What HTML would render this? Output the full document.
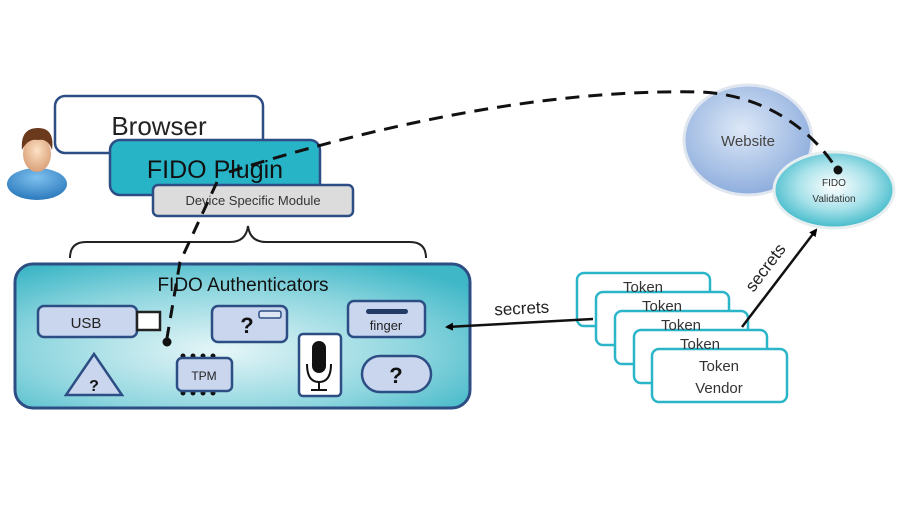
<!DOCTYPE html>
<html><head><meta charset="utf-8"><style>
html,body{margin:0;padding:0;background:#fff;width:900px;height:506px;overflow:hidden}
svg{display:block}
text{font-family:"Liberation Sans","DejaVu Sans",sans-serif}
</style></head><body>
<svg width="900" height="506" viewBox="0 0 900 506" xmlns="http://www.w3.org/2000/svg">
<defs>
<radialGradient id="auth" cx="0.45" cy="0.6" r="0.7">
<stop offset="0" stop-color="#e6f6f8"/><stop offset="0.6" stop-color="#8fd6df"/><stop offset="1" stop-color="#3fb7c7"/></radialGradient>
<radialGradient id="web" cx="0.45" cy="0.4" r="0.65">
<stop offset="0" stop-color="#dde8f7"/><stop offset="1" stop-color="#88a9db"/></radialGradient>
<radialGradient id="val" cx="0.5" cy="0.45" r="0.6">
<stop offset="0" stop-color="#ffffff"/><stop offset="0.5" stop-color="#a9e2ea"/><stop offset="1" stop-color="#2fb3c4"/></radialGradient>
<radialGradient id="face" cx="0.5" cy="0.4" r="0.6"><stop offset="0" stop-color="#fde1c4"/><stop offset="1" stop-color="#d9a078"/></radialGradient>
<radialGradient id="shirt" cx="0.5" cy="0.3" r="0.8"><stop offset="0" stop-color="#7fc1ef"/><stop offset="1" stop-color="#1f6fb5"/></radialGradient>
<marker id="ah" markerWidth="8" markerHeight="8" refX="6" refY="4" orient="auto" markerUnits="userSpaceOnUse"><path d="M0,0 L8,4 L0,8 Z" fill="#000"/></marker>
</defs>

<ellipse cx="37" cy="184" rx="30" ry="16" fill="url(#shirt)"/>
<ellipse cx="37" cy="154" rx="14" ry="18" fill="url(#face)"/>
<path d="M22,150 Q20,128 38,128 Q55,128 52,150 Q48,138 38,140 Q28,138 22,150Z" fill="#6b3a1c"/>

<rect x="55" y="96" width="208" height="57" rx="10" fill="#fff" stroke="#2d4e84" stroke-width="2.5"/>
<text x="159" y="135" font-size="26" text-anchor="middle" fill="#222">Browser</text>
<rect x="110" y="140" width="210" height="55" rx="10" fill="#27b4c7" stroke="#2d4e84" stroke-width="2.5"/>
<text x="215" y="178" font-size="25" text-anchor="middle" fill="#111">FIDO Plugin</text>
<rect x="153" y="185" width="200" height="31" rx="5" fill="#dcdcdc" stroke="#2d4e84" stroke-width="2.5"/>
<text x="253" y="205" font-size="13" text-anchor="middle" fill="#333">Device Specific Module</text>

<path d="M70,258 Q70,242 86,242 L230,242 Q246,242 248,226 Q250,242 266,242 L410,242 Q426,242 426,258" fill="none" stroke="#222" stroke-width="2"/>

<rect x="15" y="264" width="455" height="144" rx="18" fill="url(#auth)" stroke="#2d4e84" stroke-width="3"/>
<text x="243" y="291" font-size="19" text-anchor="middle" fill="#111">FIDO Authenticators</text>

<rect x="38" y="306" width="99" height="31" rx="6" fill="#c9d6ee" stroke="#2d4e84" stroke-width="2.5"/>
<text x="86" y="328" font-size="15" text-anchor="middle" fill="#222">USB</text>
<rect x="137" y="312" width="23" height="18" fill="#fff" stroke="#222" stroke-width="2.5"/>

<rect x="212" y="306" width="75" height="36" rx="6" fill="#c9d6ee" stroke="#2d4e84" stroke-width="2.5"/>
<text x="247" y="333" font-size="22" font-weight="bold" text-anchor="middle" fill="#111">?</text>
<rect x="259" y="311" width="22" height="7" rx="2" fill="#dde6f4" stroke="#2d4e84" stroke-width="1.5"/>

<rect x="348" y="301" width="77" height="36" rx="6" fill="#c9d6ee" stroke="#2d4e84" stroke-width="2.5"/>
<rect x="366" y="309" width="42" height="5" rx="2.5" fill="#223a66"/>
<text x="386" y="330" font-size="13" text-anchor="middle" fill="#222">finger</text>

<rect x="299" y="334" width="42" height="62" rx="4" fill="#fff" stroke="#2d4e84" stroke-width="2.5"/>
<rect x="312" y="341" width="14" height="32" rx="7" fill="#111"/>
<path d="M307,364 Q307,382 319,382 Q331,382 331,364" fill="none" stroke="#111" stroke-width="2"/>
<line x1="319" y1="382" x2="319" y2="390" stroke="#111" stroke-width="2"/>
<line x1="311" y1="390" x2="327" y2="390" stroke="#111" stroke-width="2"/>

<rect x="362" y="356" width="69" height="36" rx="18" fill="#c9d6ee" stroke="#2d4e84" stroke-width="2.5"/>
<text x="396" y="383" font-size="22" font-weight="bold" text-anchor="middle" fill="#111">?</text>

<path d="M94,354 L122,395 L66,395 Z" fill="#c9d6ee" stroke="#2d4e84" stroke-width="2.5"/>
<text x="94" y="391" font-size="16" font-weight="bold" text-anchor="middle" fill="#111">?</text>

<g fill="#111"><circle cx="183" cy="356" r="2.5"/><circle cx="193" cy="356" r="2.5"/><circle cx="203" cy="356" r="2.5"/><circle cx="213" cy="356" r="2.5"/>
<circle cx="183" cy="393" r="2.5"/><circle cx="193" cy="393" r="2.5"/><circle cx="203" cy="393" r="2.5"/><circle cx="213" cy="393" r="2.5"/></g>
<rect x="177" y="358" width="55" height="33" rx="5" fill="#c9d6ee" stroke="#2d4e84" stroke-width="2.5"/>
<text x="204" y="380" font-size="12" text-anchor="middle" fill="#222">TPM</text>

<ellipse cx="748" cy="140" rx="64" ry="55" fill="url(#web)" stroke="#e0e6f0" stroke-width="3"/>
<text x="748" y="146" font-size="15" text-anchor="middle" fill="#444">Website</text>
<ellipse cx="834" cy="190" rx="60" ry="38" fill="url(#val)" stroke="#e6eef0" stroke-width="3"/>
<text x="834" y="186" font-size="10" text-anchor="middle" fill="#333">FIDO</text>
<text x="834" y="202" font-size="10" text-anchor="middle" fill="#333">Validation</text>

<path d="M229,172 C330,140 520,88 700,92 C770,95 815,135 836,168" fill="none" stroke="#111" stroke-width="3" stroke-dasharray="14,9"/>
<circle cx="838" cy="170" r="4.5" fill="#111"/>
<path d="M217,182 L180,262 L167,338" fill="none" stroke="#111" stroke-width="3" stroke-dasharray="13,9"/>
<circle cx="167" cy="342" r="4.5" fill="#111"/>

<g fill="#fff" stroke="#2bb5c8" stroke-width="2.5">
<rect x="577" y="273" width="133" height="53" rx="7"/>
<rect x="596" y="292" width="133" height="53" rx="7"/>
<rect x="615" y="311" width="133" height="53" rx="7"/>
<rect x="634" y="330" width="133" height="53" rx="7"/>
<rect x="652" y="349" width="135" height="53" rx="7"/>
</g>
<g font-size="15" fill="#333" text-anchor="middle">
<text x="643" y="292">Token</text><text x="662" y="311">Token</text><text x="681" y="330">Token</text><text x="700" y="349">Token</text>
<text x="719" y="371">Token</text><text x="719" y="393">Vendor</text>
</g>

<line x1="593" y1="319" x2="447" y2="327" stroke="#111" stroke-width="2.5" marker-end="url(#ah)"/>
<text x="522" y="314" font-size="17" text-anchor="middle" fill="#222" transform="rotate(-3 522 314)">secrets</text>
<line x1="742" y1="327" x2="816" y2="230" stroke="#111" stroke-width="2.5" marker-end="url(#ah)"/>
<text x="770" y="271" font-size="17" text-anchor="middle" fill="#222" transform="rotate(-53 770 271)">secrets</text>
</svg>
</body></html>
